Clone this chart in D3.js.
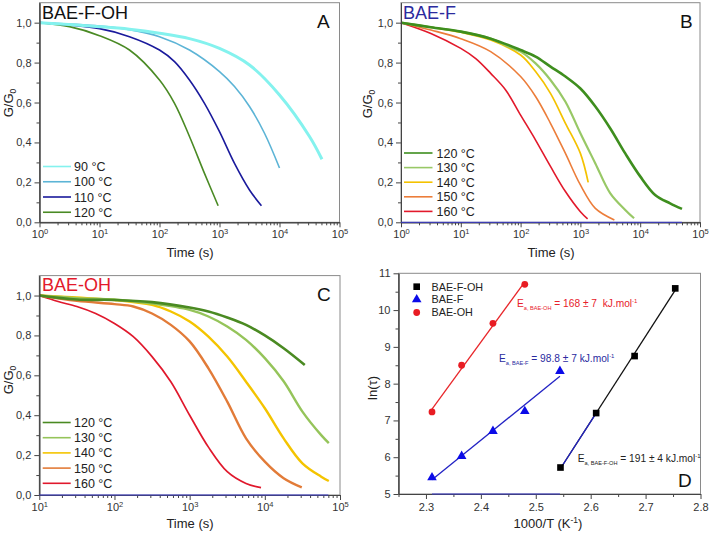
<!DOCTYPE html>
<html><head><meta charset="utf-8">
<script src="https://cdn.jsdelivr.net/npm/d3@7"></script>
<style>body{margin:0;background:#fff} svg text{font-family:"Liberation Sans",Arial,sans-serif}</style>
</head><body><svg id="c" width="709" height="535"></svg>
<script>
// ---------- DATA ----------
// Panel A: BAE-F-OH, [time (s), G/G0]
const A90  = [[1,1],[10,0.98],[31.6,0.967],[100,0.947],[316,0.92],[1000,0.871],[3162,0.788],[10000,0.638],[31623,0.43],[51000,0.316]];
const A100 = [[1,1],[10,0.983],[31.6,0.965],[100,0.93],[316,0.863],[1000,0.755],[1778,0.68],[3162,0.58],[5623,0.446],[10000,0.272]];
const A110 = [[1,1],[10,0.97],[31.6,0.93],[100,0.863],[178,0.805],[316,0.713],[562,0.596],[1000,0.454],[1778,0.295],[3162,0.162],[5000,0.083]];
const A120 = [[1,1],[3.16,0.98],[10,0.935],[31.6,0.863],[100,0.713],[178,0.596],[316,0.43],[562,0.245],[950,0.083]];
// Panel B: BAE-F
const B120 = [[1,1],[3.16,0.977],[10,0.955],[31.6,0.92],[100,0.863],[178,0.83],[316,0.78],[562,0.73],[1000,0.67],[1778,0.58],[3162,0.47],[5623,0.345],[10000,0.23],[17783,0.137],[31623,0.095],[50000,0.067]];
const B130 = [[1,1],[3.16,0.977],[10,0.955],[31.6,0.92],[63,0.88],[100,0.855],[178,0.796],[316,0.713],[562,0.604],[1000,0.446],[1778,0.295],[3162,0.145],[5623,0.062],[7900,0.02]];
const B140 = [[1,1],[3.16,0.977],[10,0.952],[31.6,0.913],[100,0.838],[178,0.755],[316,0.646],[562,0.496],[1000,0.345],[1350,0.2]];
const B150 = [[1,1],[3.16,0.963],[10,0.92],[31.6,0.855],[100,0.73],[178,0.63],[316,0.496],[562,0.345],[1000,0.187],[1778,0.07],[3700,0.012]];
const B160 = [[1,1],[3.16,0.946],[10,0.871],[17.8,0.82],[31.6,0.746],[56.2,0.663],[100,0.537],[178,0.412],[316,0.28],[562,0.154],[1000,0.053],[1320,0.017]];
// Panel C: BAE-OH
const C120 = [[10,1],[31.6,0.98],[100,0.978],[316,0.967],[1000,0.94],[1778,0.92],[3162,0.89],[5623,0.853],[10000,0.8],[17783,0.736],[34000,0.652]];
const C130 = [[10,1],[31.6,0.987],[100,0.98],[316,0.96],[1000,0.928],[1778,0.895],[3162,0.845],[5623,0.778],[10000,0.686],[17783,0.57],[31623,0.418],[56234,0.3],[71000,0.26]];
const C140 = [[10,1],[31.6,0.99],[100,0.978],[316,0.953],[562,0.92],[1000,0.87],[1778,0.794],[3162,0.694],[5623,0.568],[10000,0.435],[17783,0.284],[31623,0.159],[56234,0.092],[71000,0.07]];
const C150 = [[10,1],[31.6,0.973],[100,0.957],[178,0.945],[316,0.91],[562,0.853],[1000,0.77],[1778,0.635],[3162,0.468],[5623,0.284],[10000,0.167],[17783,0.084],[31000,0.038]];
const C160 = [[10,1],[17.8,0.97],[31.6,0.945],[56.2,0.91],[100,0.86],[178,0.794],[316,0.694],[562,0.568],[1000,0.4],[1778,0.24],[3162,0.117],[5623,0.058],[8900,0.037]];
// Panel D: Arrhenius, [1000/T, ln(tau)]
const D_FOH = [[2.545,5.72],[2.61,7.2],[2.68,8.75],[2.754,10.59]];
const D_F   = [[2.311,5.45],[2.365,6.03],[2.422,6.71],[2.48,7.25],[2.544,8.34]];
const D_OH  = [[2.311,7.23],[2.365,8.5],[2.422,9.64],[2.48,10.7]];
// labels
const tempsA  = ["90 °C","100 °C","110 °C","120 °C"];
const tempsBC = ["120 °C","130 °C","140 °C","150 °C","160 °C"];
const seriesD = ["BAE-F-OH","BAE-F","BAE-OH"];
const ticksG  = [0,0.2,0.4,0.6,0.8,1.0];
const ticksGm = [0.1,0.3,0.5,0.7,0.9];
const ticksDx = [2.3,2.4,2.5,2.6,2.7,2.8];
const ticksDxm= [2.25,2.35,2.45,2.55,2.65,2.75];
const ticksDy = [5,6,7,8,9,10,11];
const ticksDym= [5.5,6.5,7.5,8.5,9.5,10.5];
const eaTexts = [
  {sub:"a, BAE-OH", val:" = 168 ± 7  kJ.mol", color:"#e8202a"},
  {sub:"a, BAE-F",  val:" = 98.8 ± 7 kJ.mol", color:"#2a2aa0"},
  {sub:"a, BAE-F-OH", val:" = 191 ± 4 kJ.mol", color:"#222"}
];

// ---------- DRAW ----------
const svg = d3.select('#c');
const TICK = '#444';

function styleAxis(g){
  g.selectAll('path.domain').attr('stroke',TICK);
  g.selectAll('line').attr('stroke',TICK);
  g.selectAll('text').attr('fill','#333').attr('font-size','11px');
}
function frame(x, y){
  const [x0,x1]=x.range(), [y0,y1]=y.range();
  svg.append('rect').attr('x',x0).attr('y',y1).attr('width',x1-x0).attr('height',y0-y1)
    .attr('fill','none').attr('stroke','#8a8a8a').attr('stroke-width',1);
}
function minorLog(dom){
  const out=[]; const k0=Math.round(Math.log10(dom[0])), k1=Math.round(Math.log10(dom[1]));
  for(let k=k0;k<k1;k++) for(let m=2;m<=9;m++) out.push(m*Math.pow(10,k));
  return out;
}
function majorLog(dom){
  const out=[]; const k0=Math.round(Math.log10(dom[0])), k1=Math.round(Math.log10(dom[1]));
  for(let k=k0;k<=k1;k++) out.push(Math.pow(10,k));
  return out;
}
function title(x,y,txt,color,size){
  svg.append('text').attr('x',x).attr('y',y).attr('font-family','Open Sans, sans-serif')
    .attr('font-size',size+'px').attr('fill',color).text(txt);
}

function logPanel(c){
  const x=d3.scaleLog().domain(c.xdom).range(c.xr);
  const y=d3.scaleLinear().domain([0,1.1]).range(c.yr);
  frame(x,y);
  const line=d3.line().x(d=>x(d[0])).y(d=>y(d[1])).curve(d3.curveCatmullRom.alpha(0.5));
  c.series.slice().reverse().forEach(s=>{
    svg.append('path').datum(s.data).attr('d',line).attr('fill','none')
      .attr('stroke',s.color).attr('stroke-width',s.w).attr('stroke-linejoin','round');
  });
  // axes
  const gx=svg.append('g').attr('transform',`translate(0,${c.yr[0]})`)
    .call(d3.axisBottom(x).tickValues(majorLog(c.xdom)).tickSize(5).tickSizeOuter(0).tickPadding(3));
  gx.selectAll('.tick text').each(function(d){
    const t=d3.select(this); t.text('10');
    t.append('tspan').attr('dy','-0.55em').attr('font-size','7.5px').text(Math.round(Math.log10(d)));
  });
  styleAxis(gx);
  const gxm=svg.append('g').attr('transform',`translate(0,${c.yr[0]})`)
    .call(d3.axisBottom(x).tickValues(minorLog(c.xdom)).tickSize(3).tickSizeOuter(0).tickFormat(''));
  styleAxis(gxm);
  const gy=svg.append('g').attr('transform',`translate(${c.xr[0]},0)`)
    .call(d3.axisLeft(y).tickValues(ticksG).tickSize(5).tickSizeOuter(0).tickPadding(3)
      .tickFormat(d=>d3.format('.1f')(d).replace('.',',')));
  styleAxis(gy);
  const gym=svg.append('g').attr('transform',`translate(${c.xr[0]},0)`)
    .call(d3.axisLeft(y).tickValues(ticksGm).tickSize(3).tickSizeOuter(0).tickFormat(''));
  styleAxis(gym);
  // blue baseline trace
  if(c.zero){
    svg.append('line').attr('x1',x(c.zero[0])).attr('x2',x(c.zero[1])).attr('y1',y(0)).attr('y2',y(0))
      .attr('stroke','#3a3acc').attr('stroke-width',1);
  }
  // legend
  c.series.forEach((s,i)=>{
    const yy=c.leg.y0+i*c.leg.dy;
    svg.append('line').attr('x1',c.leg.x0).attr('x2',c.leg.x1).attr('y1',yy).attr('y2',yy)
      .attr('stroke',s.color).attr('stroke-width',1.6);
    svg.append('text').attr('x',c.leg.tx).attr('y',yy).attr('dy','0.36em')
      .attr('font-size','12.5px').attr('fill','#222').text(c.labels[i]);
  });
  // axis titles
  const yl=svg.append('text').attr('transform',`translate(${c.ylab[0]},${c.ylab[1]}) rotate(-90)`)
    .attr('text-anchor','middle').attr('font-size','13px').attr('fill','#222');
  yl.append('tspan').text('G/G');
  yl.append('tspan').attr('dy','3').attr('font-size','8.5px').text('0');
  svg.append('text').attr('x',c.xlab[0]).attr('y',c.xlab[1]).attr('text-anchor','middle')
    .attr('font-size','13px').attr('fill','#222').text('Time (s)');
  title(c.title[0],c.title[1],c.title[2],c.title[3],18);
  title(c.letter[0],c.letter[1],c.letter[2],'#111',19);
}

logPanel({
  xdom:[1,1e5], xr:[39.5,339.5], yr:[222.3,2.7],
  series:[{data:A90,color:'#84f2ee',w:3},{data:A100,color:'#5cb4d6',w:1.6},{data:A110,color:'#1a1a9c',w:1.6},{data:A120,color:'#4a8a24',w:1.6}],
  labels:tempsA, leg:{x0:43,x1:71,tx:74,y0:166.5,dy:15.25},
  ylab:[13,103], xlab:[190,257], title:[42,18.5,'BAE-F-OH','#111'], letter:[317,28,'A']
});
logPanel({
  xdom:[1,1e5], xr:[401,700], yr:[222.3,2.7],
  series:[{data:B120,color:'#3e8e1e',w:2.6},{data:B130,color:'#98c866',w:2.2},{data:B140,color:'#f4c200',w:1.7},{data:B150,color:'#ec7d3a',w:1.6},{data:B160,color:'#e2192b',w:1.6}],
  labels:tempsBC, leg:{x0:404,x1:432.5,tx:436.5,y0:153,dy:14.6}, zero:[1,50000],
  ylab:[372,104], xlab:[551,257], title:[403,18.5,'BAE-F','#2b2b9e'], letter:[680,28,'B']
});
logPanel({
  xdom:[10,1e5], xr:[39.3,340], yr:[495,275.6],
  series:[{data:C120,color:'#4a8a22',w:2.6},{data:C130,color:'#95c45a',w:2.4},{data:C140,color:'#f4c400',w:2.4},{data:C150,color:'#e27b38',w:2.4},{data:C160,color:'#e0182c',w:1.7}],
  labels:tempsBC, leg:{x0:42.7,x1:70.7,tx:74,y0:422.5,dy:15.2}, zero:[10,70000],
  ylab:[13,380], xlab:[190,528], title:[42,291,'BAE-OH','#e3192b'], letter:[317,301,'C']
});

// ---------- Panel D ----------
(function(){
  const x=d3.scaleLinear().domain([2.25,2.8]).range([398.5,700.5]);
  const y=d3.scaleLinear().domain([5,11]).range([494,273.3]);
  frame(x,y);
  function fit(pts){
    const mx=d3.mean(pts,d=>d[0]), my=d3.mean(pts,d=>d[1]);
    const b=d3.sum(pts,d=>(d[0]-mx)*(d[1]-my))/d3.sum(pts,d=>(d[0]-mx)*(d[0]-mx));
    return v=>my+b*(v-mx);
  }
  function fitLine(pts,color,from,to){
    const f=fit(pts);
    const a=from===undefined?d3.min(pts,d=>d[0]):from, z=to===undefined?d3.max(pts,d=>d[0]):to;
    svg.append('line').attr('x1',x(a)).attr('y1',y(f(a))).attr('x2',x(z)).attr('y2',y(f(z)))
      .attr('stroke',color).attr('stroke-width',1.3);
  }
  fitLine(D_OH,'#e8262a');
  fitLine(D_F,'#2323c4');
  fitLine(D_FOH,'#111');
  fitLine(D_FOH,'#2323c4',D_FOH[0][0],D_FOH[1][0]);
  // axes
  const gx=svg.append('g').attr('transform',`translate(0,${y.range()[0]})`)
    .call(d3.axisBottom(x).tickValues(ticksDx).tickSize(5).tickSizeOuter(0).tickPadding(4).tickFormat(d3.format('.1f')));
  styleAxis(gx);
  const gxm=svg.append('g').attr('transform',`translate(0,${y.range()[0]})`)
    .call(d3.axisBottom(x).tickValues(ticksDxm).tickSize(3).tickSizeOuter(0).tickFormat(''));
  styleAxis(gxm);
  const gy=svg.append('g').attr('transform',`translate(${x.range()[0]},0)`)
    .call(d3.axisLeft(y).tickValues(ticksDy).tickSize(5).tickSizeOuter(0).tickPadding(3).tickFormat(d3.format('d')));
  styleAxis(gy);
  const gym=svg.append('g').attr('transform',`translate(${x.range()[0]},0)`)
    .call(d3.axisLeft(y).tickValues(ticksDym).tickSize(3).tickSizeOuter(0).tickFormat(''));
  styleAxis(gym);
  svg.append('line').attr('x1',x(D_F[0][0])).attr('x2',x(D_F[D_F.length-1][0])).attr('y1',y(5)).attr('y2',y(5))
    .attr('stroke','#3a3acc').attr('stroke-width',1);
  // markers
  const sq=d3.symbol().type(d3.symbolSquare).size(44);
  const tri=d3.symbol().type(d3.symbolTriangle).size(40);
  svg.selectAll('.m1').data(D_FOH).enter().append('path').attr('d',sq)
    .attr('transform',d=>`translate(${x(d[0])},${y(d[1])})`).attr('fill','#000');
  svg.selectAll('.m2').data(D_F).enter().append('path').attr('d',tri)
    .attr('transform',d=>`translate(${x(d[0])},${y(d[1])})`).attr('fill','#0b0be8');
  svg.selectAll('.m3').data(D_OH).enter().append('circle').attr('r',3.4)
    .attr('cx',d=>x(d[0])).attr('cy',d=>y(d[1])).attr('fill','#e81c23');
  // legend
  const legY=[286.7,299.5,312.5];
  const legSym=[sq,tri,null], legCol=['#000','#0b0be8','#e81c23'];
  seriesD.forEach((s,i)=>{
    if(legSym[i]) svg.append('path').attr('d',legSym[i]).attr('transform',`translate(416.7,${legY[i]})`).attr('fill',legCol[i]);
    else svg.append('circle').attr('cx',416.7).attr('cy',legY[i]).attr('r',3.4).attr('fill',legCol[i]);
    svg.append('text').attr('x',431.5).attr('y',legY[i]).attr('dy','0.36em').attr('font-size','10.8px').attr('fill','#222').text(s);
  });
  // Ea annotations
  const pos=[[517,307.3],[499,362.3],[577.7,462.3]];
  eaTexts.forEach((e,i)=>{
    const t=svg.append('text').attr('x',pos[i][0]).attr('y',pos[i][1]).attr('font-size','10.2px')
      .attr('fill',e.color).style('white-space','pre');
    t.append('tspan').text('E');
    t.append('tspan').attr('dy','2.5').attr('font-size','5.6px').text(e.sub);
    t.append('tspan').attr('dy','-2.5').text(e.val);
    t.append('tspan').attr('dy','-4').attr('font-size','6px').text('-1');
  });
  // axis titles
  svg.append('text').attr('transform',`translate(377,388) rotate(-90)`)
    .attr('text-anchor','middle').attr('font-size','13px').attr('fill','#222').text('ln(τ)');
  const xl=svg.append('text').attr('x',548).attr('y',528).attr('text-anchor','middle')
    .attr('font-size','13px').attr('fill','#222');
  xl.append('tspan').text('1000/T (K');
  xl.append('tspan').attr('dy','-5').attr('font-size','8.5px').text('-1');
  xl.append('tspan').attr('dy','5').text(')');
  title(678,486.7,'D','#111',19);
})();
</script></body></html>
